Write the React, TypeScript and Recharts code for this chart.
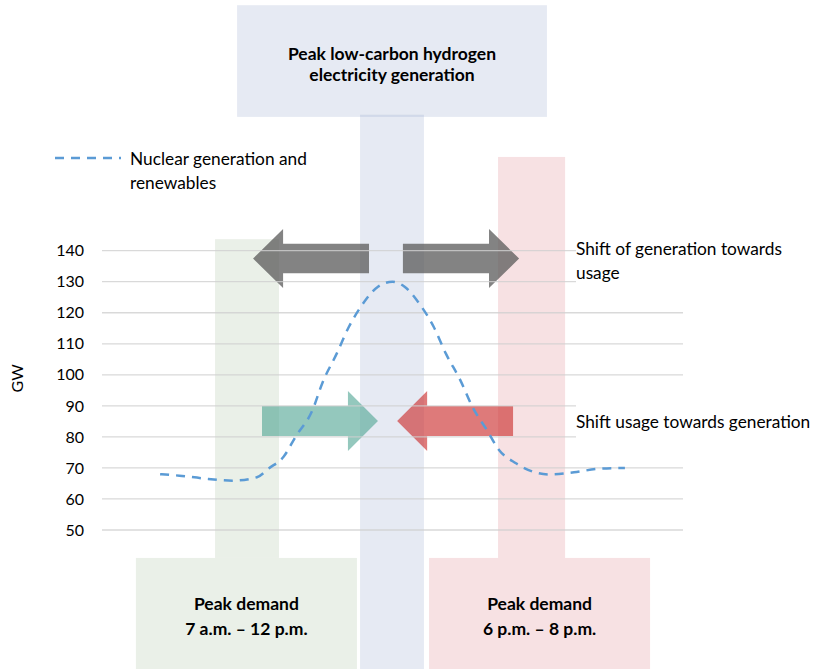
import React from 'react';
import {
  LineChart,
  Line,
  XAxis,
  YAxis,
  ReferenceArea,
  ReferenceLine,
  Customized,
} from 'recharts';

// ---------- data ----------
const hours = [
  2.4, 3.2, 4.1, 5.4, 6.4, 6.9, 7.5, 8.0, 8.7, 9.1, 9.7, 10.2, 10.7, 11.4, 12.0,
  12.5, 13.1, 13.7, 14.2, 14.8, 15.3, 15.9, 16.4, 17.1, 17.8, 18.5, 19.5, 20.6, 21.6,
];
const nuclearRenewablesGW = [
  68, 67.5, 66.7, 65.9, 67, 69.9, 73.6, 80.1, 88.7, 97.3, 106.9, 115.5, 122, 128.4, 130,
  128.4, 123, 115.5, 106.9, 98.3, 89.7, 82.2, 75.8, 71.5, 68.8, 67.9, 68.6, 69.8, 70,
];
const yTicks = [50, 60, 70, 80, 90, 100, 110, 120, 130, 140];
// grid lines that stop where the right-hand notes sit
const shortGridTicks = [80, 90, 130, 140];
const gridEndFull = 24;
const gridEndShort = 19.58;

const topBoxLines = ['Peak low-carbon hydrogen', 'electricity generation'];
const morningBoxLines = ['Peak demand', '7 a.m. \u2013 12 p.m.'];
const eveningBoxLines = ['Peak demand', '6 p.m. \u2013 8 p.m.'];
const legendLines = ['Nuclear generation and', 'renewables'];
const shiftGenLines = ['Shift of generation towards', 'usage'];
const shiftUsageLines = ['Shift usage towards generation'];

const data = hours.map((h, i) => ({ hour: h, gw: nuclearRenewablesGW[i] }));

const FONT = 'Lato, "Open Sans", sans-serif';

// ---------- shapes ----------
type RectProps = { x?: number; y?: number; width?: number; height?: number };

const boxShape =
  (fill: string, lines: string[], opacity = 1, firstDy = 0, lh = 23) =>
  (p: RectProps) => {
    const x = p.x ?? 0;
    const y = p.y ?? 0;
    const w = p.width ?? 0;
    const h = p.height ?? 0;
    const cx = x + w / 2;
    return (
      <g>
        <rect x={x} y={y} width={w} height={h} fill={fill} fillOpacity={opacity} />
        {lines.map((t, i) => (
          <text
            key={i}
            x={cx}
            y={y + firstDy + i * lh}
            textAnchor="middle"
            dominantBaseline="central"
            fontFamily={FONT}
            fontWeight={700}
            fontSize={17.5}
            fill="#000"
          >
            {t}
          </text>
        ))}
      </g>
    );
  };

const arrowShape = (dir: 'left' | 'right', fill: string, opacity: number) => (p: RectProps) => {
  const x = p.x ?? 0;
  const y = p.y ?? 0;
  const w = p.width ?? 0;
  const h = p.height ?? 0;
  const head = w * 0.259;
  const sT = y + h * 0.25;
  const sB = y + h * 0.75;
  const mid = y + h / 2;
  let pts: number[][];
  if (dir === 'left') {
    pts = [
      [x, mid],
      [x + head, y],
      [x + head, sT],
      [x + w, sT],
      [x + w, sB],
      [x + head, sB],
      [x + head, y + h],
    ];
  } else {
    pts = [
      [x + w, mid],
      [x + w - head, y],
      [x + w - head, sT],
      [x, sT],
      [x, sB],
      [x + w - head, sB],
      [x + w - head, y + h],
    ];
  }
  return (
    <polygon points={pts.map((q) => q.join(',')).join(' ')} fill={fill} fillOpacity={opacity} />
  );
};

const Annotations = () => (
  <g fontFamily={FONT} fill="#000">
    {/* legend */}
    <line x1={55} x2={121} y1={158} y2={158} stroke="#5B9BD5" strokeWidth={2.5} strokeDasharray="9 7" />
    {legendLines.map((t, i) => (
      <text key={t} x={130} y={158 + i * 24} dominantBaseline="central" fontSize={17.3}>
        {t}
      </text>
    ))}
    {shiftGenLines.map((t, i) => (
      <text key={t} x={576} y={248 + i * 24} dominantBaseline="central" fontSize={17.3}>
        {t}
      </text>
    ))}
    {shiftUsageLines.map((t) => (
      <text key={t} x={576} y={421} dominantBaseline="central" fontSize={17.3}>
        {t}
      </text>
    ))}
  </g>
);

const GWLabel = (props: any) => {
  const vb = props.viewBox || {};
  const cy = (vb.y ?? 0) + (vb.height ?? 0) / 2 - 12;
  return (
    <text
      x={17}
      y={cy}
      transform={`rotate(-90, 17, ${cy})`}
      textAnchor="middle"
      dominantBaseline="central"
      fontFamily={FONT}
      fontSize={16}
      fill="#000"
    >
      GW
    </text>
  );
};

export default function App() {
  return (
    <div style={{ position: 'absolute', left: 0, top: 0, width: 815, height: 669, background: '#fff' }}>
      <LineChart
        width={815}
        height={669}
        data={data}
        margin={{ top: 250.67, right: 132, bottom: 139, left: 42 }}
      >
        <XAxis dataKey="hour" type="number" domain={[0, 24]} hide allowDataOverflow />
        <YAxis
          type="number"
          domain={[50, 140]}
          ticks={yTicks}
          width={60}
          axisLine={false}
          tickLine={false}
          tickSize={0}
          tickMargin={18}
          tick={{ fontFamily: FONT, fontSize: 16, fill: '#000' }}
          label={<GWLabel />}
        />

        {/* background bands and boxes */}
        <ReferenceArea x1={5.58} x2={18.38} y1={183.1} y2={219.1} ifOverflow="visible"
          shape={boxShape('rgb(120,145,190)', topBoxLines, 0.19, 48, 21)} />
        <ReferenceArea x1={10.66} x2={13.3} y1={5.2} y2={183.8} ifOverflow="visible"
          shape={boxShape('rgb(120,145,190)', [], 0.19)} />
        <ReferenceArea x1={4.67} x2={7.31} y1={41} y2={143.7} ifOverflow="visible"
          shape={boxShape('#EAF0E8', [])} />
        <ReferenceArea x1={1.4} x2={10.53} y1={5.2} y2={41} ifOverflow="visible"
          shape={boxShape('#EAF0E8', morningBoxLines, 1, 46, 25)} />
        <ReferenceArea x1={16.36} x2={19.13} y1={41} y2={170.2} ifOverflow="visible"
          shape={boxShape('#F7E1E3', [])} />
        <ReferenceArea x1={13.51} x2={22.64} y1={5.2} y2={41} ifOverflow="visible"
          shape={boxShape('#F7E1E3', eveningBoxLines, 1, 46, 25)} />

        {/* horizontal grid */}
        {yTicks.map((t) => (
          <ReferenceLine
            key={t}
            segment={[
              { x: 0, y: t },
              { x: shortGridTicks.includes(t) ? gridEndShort : gridEndFull, y: t },
            ]}
            stroke="#D0D0D0"
            strokeOpacity={0.8}
            strokeWidth={1.3}
            ifOverflow="visible"
          />
        ))}

        <Line
          type="monotone"
          dataKey="gw"
          stroke="#5B9BD5"
          strokeWidth={2.5}
          strokeDasharray="9 7"
          dot={false}
          activeDot={false}
          isAnimationActive={false}
        />

        {/* arrows */}
        <ReferenceArea x1={6.24} x2={11.03} y1={127.96} y2={146.97} ifOverflow="visible"
          shape={arrowShape('left', '#595959', 0.75)} />
        <ReferenceArea x1={12.43} x2={17.23} y1={127.96} y2={146.97} ifOverflow="visible"
          shape={arrowShape('right', '#595959', 0.75)} />
        <ReferenceArea x1={6.61} x2={11.4} y1={75.45} y2={94.78} ifOverflow="visible"
          shape={arrowShape('right', 'rgb(77,163,145)', 0.6)} />
        <ReferenceArea x1={12.19} x2={16.98} y1={75.45} y2={94.78} ifOverflow="visible"
          shape={arrowShape('left', 'rgb(204,51,51)', 0.65)} />

        <Customized component={Annotations} />
      </LineChart>
    </div>
  );
}
